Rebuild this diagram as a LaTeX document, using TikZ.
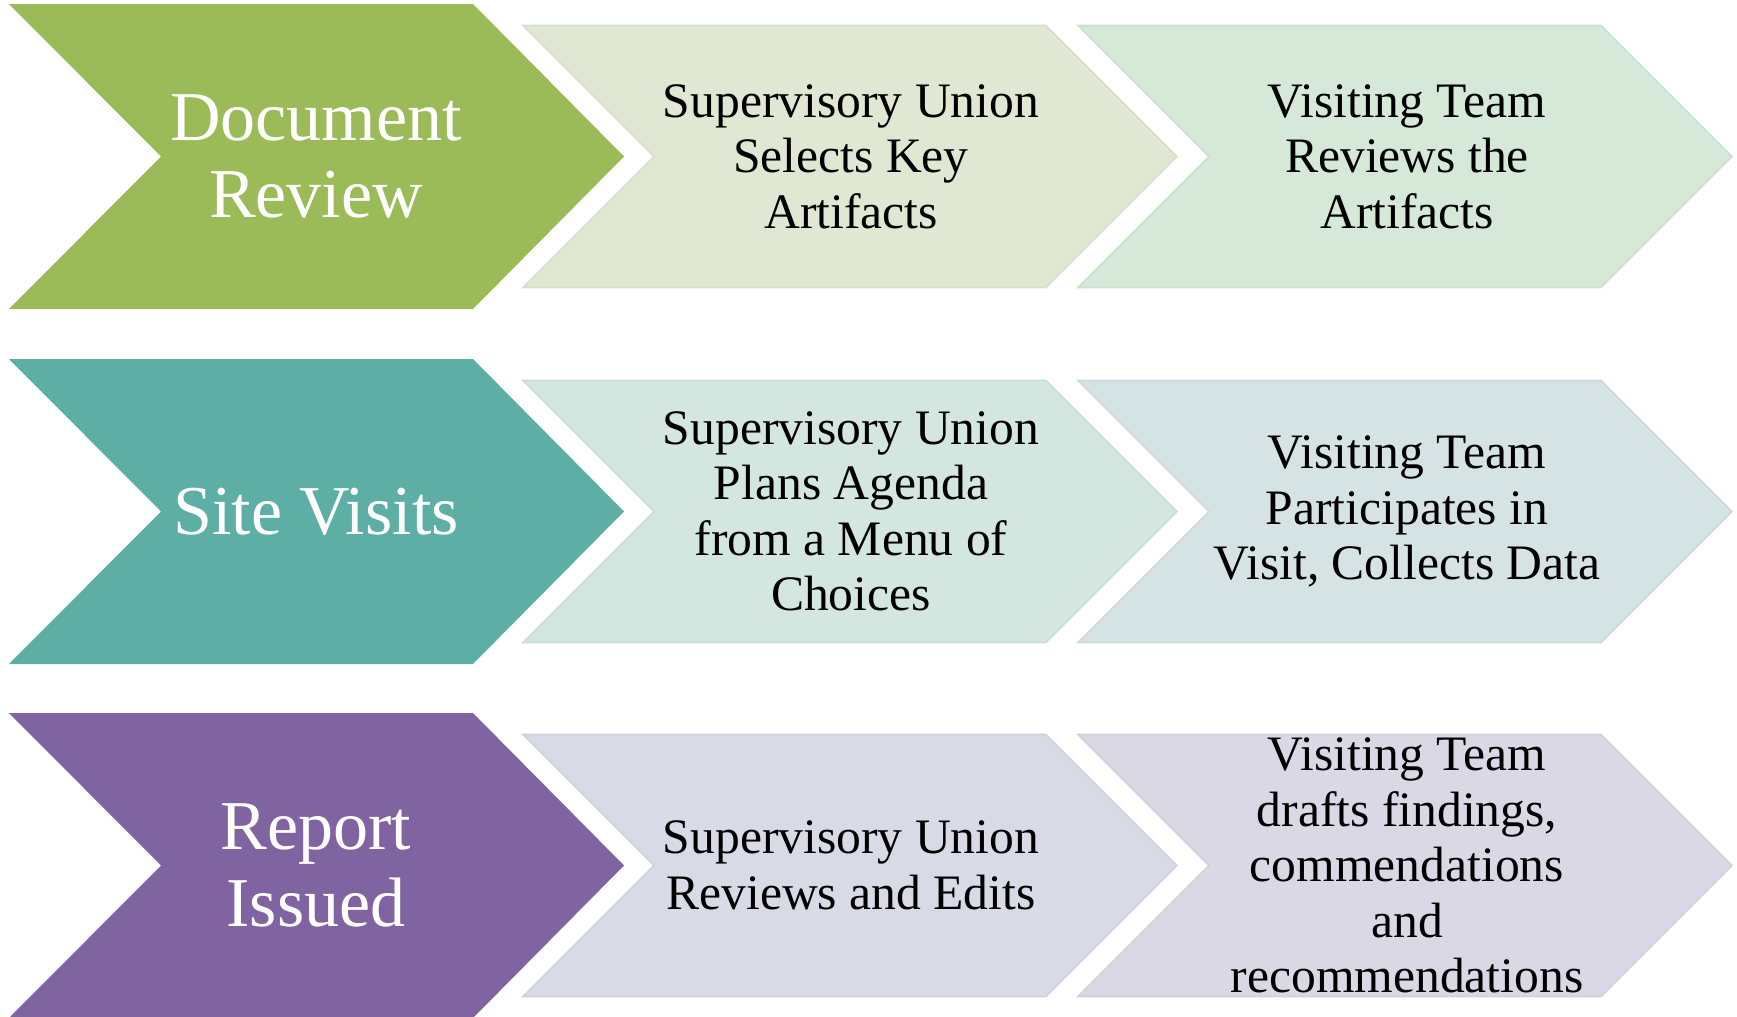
\documentclass[tikz,border=0pt]{standalone}
\usepackage{fontspec}
\setmainfont{Liberation Serif}
\usepackage{tikz}

\definecolor{bigGreen}{RGB}{155,187,89}
\definecolor{bigTeal}{RGB}{93,174,165}
\definecolor{bigPurple}{RGB}{128,100,162}
\definecolor{paleGreenA}{RGB}{224,232,212}
\definecolor{paleGreenB}{RGB}{214,232,215}
\definecolor{paleTealA}{RGB}{212,230,224}
\definecolor{paleTealB}{RGB}{214,227,228}
\definecolor{paleLilacA}{RGB}{216,218,230}
\definecolor{paleLilacB}{RGB}{219,216,229}

\tikzset{
  smallchev/.style={line width=0.8pt},
  bigtext/.style={align=center, text=white, font=\fontsize{35}{38.7}\selectfont, inner sep=0.75pt},
  smalltext/.style={align=center, text=black, font=\fontsize{24.8}{27.7}\selectfont, inner sep=0.75pt}
}

\begin{document}
\begin{tikzpicture}[x=0.5pt,y=0.5pt,yscale=-1,xscale=1]
\useasboundingbox (0,0) rectangle (1737,1017);

%Shape: Chevron [id:row1big]
\fill [bigGreen] (9,4) -- (473,4) -- (624,156.5) -- (473,309) -- (9,309) -- (161,156.5) -- cycle ;
%Shape: Chevron [id:row1a]
\draw [smallchev, fill=paleGreenA, draw=paleGreenA!96!black] (523,25.5) -- (1046,25.5) -- (1177,156.5) -- (1046,287.5) -- (523,287.5) -- (654,156.5) -- cycle ;
%Shape: Chevron [id:row1b]
\draw [smallchev, fill=paleGreenB, draw=paleGreenB!96!black] (1078,25.5) -- (1601,25.5) -- (1732,156.5) -- (1601,287.5) -- (1078,287.5) -- (1209,156.5) -- cycle ;

%Shape: Chevron [id:row2big]
\fill [bigTeal] (9,359) -- (473,359) -- (624,511.5) -- (473,664) -- (9,664) -- (161,511.5) -- cycle ;
%Shape: Chevron [id:row2a]
\draw [smallchev, fill=paleTealA, draw=paleTealA!96!black] (523,380.5) -- (1046,380.5) -- (1177,511.5) -- (1046,642.5) -- (523,642.5) -- (654,511.5) -- cycle ;
%Shape: Chevron [id:row2b]
\draw [smallchev, fill=paleTealB, draw=paleTealB!96!black] (1078,380.5) -- (1601,380.5) -- (1732,511.5) -- (1601,642.5) -- (1078,642.5) -- (1209,511.5) -- cycle ;

%Shape: Chevron [id:row3big]
\fill [bigPurple] (9,713) -- (473,713) -- (624,865.5) -- (473,1018) -- (9,1018) -- (161,865.5) -- cycle ;
%Shape: Chevron [id:row3a]
\draw [smallchev, fill=paleLilacA, draw=paleLilacA!96!black] (523,734.5) -- (1046,734.5) -- (1177,865.5) -- (1046,996.5) -- (523,996.5) -- (654,865.5) -- cycle ;
%Shape: Chevron [id:row3b]
\draw [smallchev, fill=paleLilacB, draw=paleLilacB!96!black] (1078,734.5) -- (1601,734.5) -- (1732,865.5) -- (1601,996.5) -- (1078,996.5) -- (1209,865.5) -- cycle ;

% Text Node
\node [bigtext] (docrev) at (316,156.5) {Document\\Review};
% Text Node
\node [smalltext] (docrevA) at (851,156.5) {Supervisory Union\\Selects Key\\Artifacts};
% Text Node
\node [smalltext] (docrevB) at (1407,156.5) {Visiting Team\\Reviews the\\Artifacts};

% Text Node
\node [bigtext] (sitevis) at (316,511.5) {Site Visits};
% Text Node
\node [smalltext] (sitevisA) at (851,511.5) {Supervisory Union\\Plans Agenda\\from a Menu of\\Choices};
% Text Node
\node [smalltext] (sitevisB) at (1407,511.5) {Visiting Team\\Participates in\\Visit, Collects Data};

% Text Node
\node [bigtext] (report) at (316,865.5) {Report\\Issued};
% Text Node
\node [smalltext] (reportA) at (851,865.5) {Supervisory Union\\Reviews and Edits};
% Text Node
\node [smalltext] (reportB) at (1407,865.5) {Visiting Team\\drafts findings,\\commendations\\and\\recommendations};

\end{tikzpicture}
\end{document}
